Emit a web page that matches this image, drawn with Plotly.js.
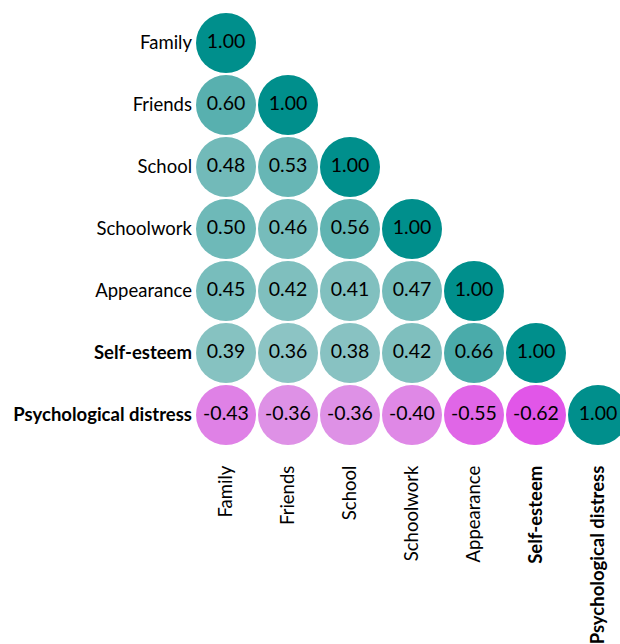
<!DOCTYPE html>
<html>
<head>
<meta charset="utf-8">
<script src="https://cdn.plot.ly/plotly-3.0.1.min.js"></script>
<style>html,body{margin:0;padding:0;background:#fff;}#chart{width:620px;height:644px;}</style>
</head>
<body>
<div id="chart"></div>
<script>
// Variables (rows top to bottom, columns left to right)
const categories = ["Family", "Friends", "School", "Schoolwork", "Appearance", "Self-esteem", "Psychological distress"];
const tickLabels = ["Family", "Friends", "School", "Schoolwork", "Appearance", "<b>Self-esteem</b>", "<b>Psychological distress</b>"];

// Lower-triangle correlations, one array per row
const rowFamily      = [1.00];
const rowFriends     = [0.60, 1.00];
const rowSchool      = [0.48, 0.53, 1.00];
const rowSchoolwork  = [0.50, 0.46, 0.56, 1.00];
const rowAppearance  = [0.45, 0.42, 0.41, 0.47, 1.00];
const rowSelfEsteem  = [0.39, 0.36, 0.38, 0.42, 0.66, 1.00];
const rowDistress    = [-0.43, -0.36, -0.36, -0.40, -0.55, -0.62, 1.00];

const rows = [rowFamily, rowFriends, rowSchool, rowSchoolwork, rowAppearance, rowSelfEsteem, rowDistress];

const xs = [], ys = [], vals = [], txt = [];
rows.forEach((row, r) => {
  row.forEach((v, c) => {
    xs.push(c); ys.push(r); vals.push(v); txt.push(v.toFixed(2));
  });
});

const FONT = "Lato, 'Open Sans', sans-serif";

const trace = {
  type: "scatter",
  mode: "markers+text",
  x: xs, y: ys,
  text: txt,
  textposition: "middle center",
  textfont: {family: FONT, size: 19.5, color: "#000"},
  marker: {
    size: 60,
    color: vals,
    cmin: -1, cmax: 1,
    colorscale: [
      [0, "rgb(228,0,235)"],
      [0.5, "rgb(219,226,227)"],
      [1, "rgb(0,143,140)"]
    ],
    line: {width: 0},
    showscale: false
  },
  hoverinfo: "skip",
  cliponaxis: true
};

const layout = {
  width: 620, height: 644,
  margin: {l: 195, r: 0, t: 12, b: 198},
  paper_bgcolor: "#fff", plot_bgcolor: "#fff",
  showlegend: false,
  font: {family: FONT, size: 18.5, color: "#000"},
  xaxis: {
    range: [-0.5, -0.5 + 425 / 62],
    tickvals: categories.map((_, i) => i),
    ticktext: tickLabels,
    tickangle: -90,
    ticks: "",
    showgrid: false, zeroline: false, showline: false,
    ticklabelstandoff: 15,
    tickfont: {family: FONT, size: 18.5, color: "#000"}
  },
  yaxis: {
    range: [6.5, -0.5],
    tickvals: categories.map((_, i) => i),
    ticktext: tickLabels,
    ticks: "",
    showgrid: false, zeroline: false, showline: false,
    ticklabelstandoff: 2,
    tickfont: {family: FONT, size: 18.5, color: "#000"}
  }
};

Plotly.newPlot("chart", [trace], layout, {displayModeBar: false, staticPlot: true});
</script>
</body>
</html>
